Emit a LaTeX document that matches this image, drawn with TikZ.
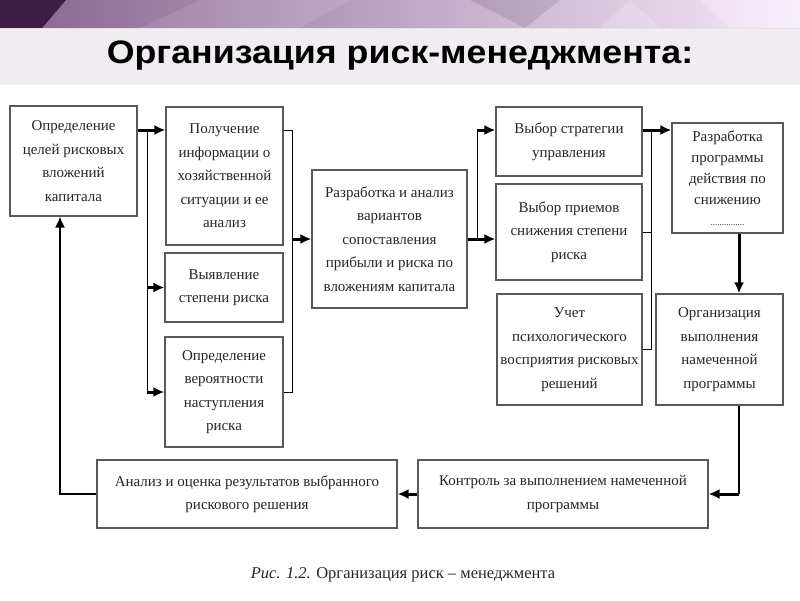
\documentclass[tikz,border=0pt]{standalone}
\usepackage{fontspec}
\setmainfont{Liberation Serif}
\newfontfamily\headfont{Liberation Sans}
\usetikzlibrary{arrows.meta}
\definecolor{banddark}{HTML}{3F1C45}
\definecolor{bandleft}{HTML}{86638F}
\definecolor{bandmid}{HTML}{AC8DB8}
\definecolor{bandlight}{HTML}{F6E8F9}
\definecolor{titleband}{HTML}{F0ECF1}

\begin{document}
\begin{tikzpicture}[x=1pt, y=-1pt,
    box/.style={draw=black!65, line width=1.1pt, fill=white, align=center, text=black!85,
      inner sep=0pt, font=\fontsize{15}{23.5}\selectfont},
    flow/.style={line width=3pt, -{Latex[length=11pt,width=10pt]}},
    link/.style={line width=1pt},
    back/.style={line width=1.7pt, -{Latex[length=11pt,width=10pt]}}]
  \useasboundingbox (0,0) rectangle (800,600);
  \fill[white] (0,0) rectangle (800,600);

  % Header band
  \shade[left color=bandleft, middle color=bandmid, right color=bandlight] (0,0) rectangle (800,28);
  \fill[banddark] (0,0) -- (66,0) -- (42,28) -- (0,28) -- cycle;
  \fill[white, opacity=0.10] (140,28) -- (200,0) -- (350,0) -- (300,28) -- cycle;
  \fill[black, opacity=0.10] (470,0) -- (560,0) -- (525,28) -- cycle;
  \fill[white, opacity=0.18] (600,28) -- (630,0) -- (660,28) -- cycle;
  \fill[white, opacity=0.25] (700,0) -- (800,0) -- (800,28) -- (730,28) -- cycle;
  \fill[titleband] (0,28) rectangle (800,85);
  \draw[black!10, line width=0.6pt] (0,28) -- (800,28);
  \node[font=\headfont\bfseries\fontsize{32.5}{38}\selectfont, anchor=base] (title) at (400,63)
    {\scalebox{1.1}[1]{Организация риск-менеджмента:}};

  % First column
  \node[box, minimum width=127pt, minimum height=110pt] (goal) at (73.5,161)
    {Определение\\целей рисковых\\вложений\\капитала};
  \node[box, minimum width=117pt, minimum height=138pt] (info) at (224.5,176)
    {Получение\\информации о\\хозяйственной\\ситуации и ее\\анализ};
  \node[box, minimum width=118pt, minimum height=69pt] (degree) at (224,287.5)
    {Выявление\\степени риска};
  \node[box, minimum width=118pt, minimum height=110pt] (chance) at (224,392)
    {Определение\\вероятности\\наступления\\риска};

  % Middle
  \node[box, minimum width=155pt, minimum height=138pt] (variants) at (389.5,239)
    {Разработка и анализ\\вариантов\\сопоставления\\прибыли и риска по\\вложениям капитала};
  \node[box, minimum width=146pt, minimum height=69pt] (strategy) at (569,141.5)
    {Выбор стратегии\\управления};
  \node[box, minimum width=146pt, minimum height=96pt] (methods) at (569,232)
    {Выбор приемов\\снижения степени\\риска};
  \node[box, minimum width=145pt, minimum height=111pt] (psych) at (569.5,349.5)
    {Учет\\психологического\\восприятия рисковых\\решений};

  % Right column
  \node[box, minimum width=111pt, minimum height=110pt, font=\fontsize{15}{21}\selectfont] (program) at (727.5,178)
    {Разработка\\программы\\действия по\\снижению\\{\fontsize{9}{10}\selectfont ...............}};
  \node[box, minimum width=127pt, minimum height=111pt] (execute) at (719.5,349.5)
    {Организация\\выполнения\\намеченной\\программы};

  % Bottom row
  \node[box, minimum width=290pt, minimum height=68pt] (control) at (563,494)
    {Контроль за выполнением намеченной\\программы};
  \node[box, minimum width=300pt, minimum height=68pt] (review) at (247,494)
    {Анализ и оценка результатов выбранного\\рискового решения};

  % Caption
  \node[font=\fontsize{16.5}{19}\selectfont, text=black!85] (caption) at (403,575)
    {\textit{Рис. 1.2.} Организация риск -- менеджмента};

  % Bend points
  \coordinate (forkL) at (147,130);
  \coordinate (joinL) at (292,130);
  \coordinate (forkR) at (477,130);
  \coordinate (joinR) at (651,130);
  \coordinate (colR) at (739,231);
  \coordinate (colL) at (60,492);

  % Left fork
  \draw[flow] (goal.east |- forkL) -- (info.west |- forkL);
  \draw[link] (forkL) -- (forkL |- chance.west);
  \draw[flow] (forkL |- degree.west) -- (degree.west);
  \draw[flow] (forkL |- chance.west) -- (chance.west);

  % Join into variants
  \draw[link] (info.east |- joinL) -- (joinL) -- (joinL |- chance.east) -- (chance.east);
  \draw[flow] (joinL |- variants.west) -- (variants.west);

  % Right fork
  \draw[flow] (variants.east) -- (variants.east -| methods.west);
  \draw[link] (forkR) -- (forkR |- variants.east);
  \draw[flow] (forkR) -- (strategy.west |- forkR);

  % Join into program
  \draw[flow] (strategy.east |- joinR) -- (program.west |- joinR);
  \draw[link] (joinR) -- (joinR |- psych.east) -- (psych.east);
  \draw[link] (methods.east) -- (methods.east -| joinR);

  % Down and back
  \draw[flow] (program.south -| colR) -- (execute.north -| colR);
  \draw[link, line width=1.3pt] (execute.south -| colR) -- (colR |- control.east);
  \draw[flow] (colR |- control.east) -- (control.east);
  \draw[flow] (control.west) -- (review.east);
  \draw[back] (review.west) -- (review.west -| colL) -- (colL |- goal.south);
\end{tikzpicture}
\end{document}
